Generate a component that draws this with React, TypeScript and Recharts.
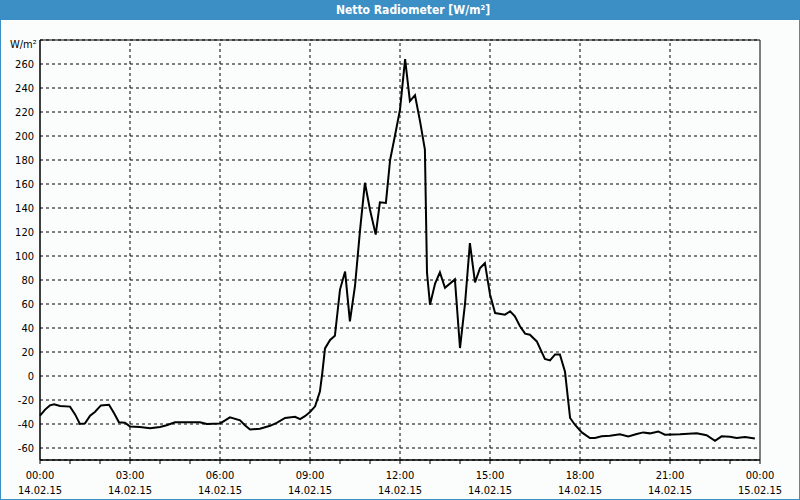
import React from 'react';
import { LineChart, Line, XAxis, YAxis, CartesianGrid, ReferenceLine, ReferenceArea } from 'recharts';

const hours: number[] = [
  0.0, 0.17, 0.33, 0.47, 0.67, 1.0, 1.17, 1.33, 1.5, 1.67, 1.83, 2.03, 2.3, 2.47, 2.63, 2.83,
  3.0, 3.33, 3.67, 4.0, 4.22, 4.5, 5.0, 5.33, 5.56, 6.0, 6.17, 6.33, 6.67, 6.83, 7.0, 7.33,
  7.67, 7.89, 8.17, 8.5, 8.67, 8.83, 9.0, 9.17, 9.33, 9.41, 9.5, 9.67, 9.83, 10.0, 10.17, 10.33,
  10.5, 10.67, 10.83, 11.0, 11.19, 11.33, 11.53, 11.67, 11.83, 12.0, 12.17, 12.33, 12.5, 12.67,
  12.83, 12.9, 13.0, 13.17, 13.33, 13.5, 13.83, 14.0, 14.17, 14.33, 14.5, 14.67, 14.83, 15.0,
  15.17, 15.5, 15.67, 15.83, 16.0, 16.17, 16.33, 16.56, 16.83, 17.0, 17.17, 17.33, 17.5, 17.67,
  17.83, 18.06, 18.33, 18.5, 18.72, 19.0, 19.33, 19.61, 19.89, 20.11, 20.33, 20.61, 20.83, 21.33,
  21.89, 22.22, 22.5, 22.72, 23.0, 23.22, 23.5, 23.83,
];

const netRadiation: number[] = [
  -33, -28, -24.5, -23.5, -25, -25.5, -32, -40, -39.5, -33, -30, -24.5, -24, -31, -38.5, -39,
  -42, -42.5, -43.5, -42.5, -41, -38.5, -38.5, -38.5, -40, -39.5, -37, -34.5, -37, -41, -44.5, -44,
  -41.5, -39, -35, -34, -36, -33.5, -30, -25.3, -13, 2.5, 23, 30, 33.5, 72, 87, 45.5,
  75, 122, 161, 138.6, 117.8, 144.7, 144.2, 180, 200, 222, 264, 229, 234, 212,
  188.6, 86, 59.4, 77, 86.4, 73.5, 80.5, 23.3, 61, 110.8, 78, 90, 94, 68,
  52.5, 51.1, 53.9, 49.7, 41.4, 35.3, 34.4, 28.8, 14.2, 13, 18, 18, 3.5, -35,
  -40.6, -47, -51.7, -51.7, -50.3, -49.8, -48.6, -50.3, -48.3, -47, -47.8, -46.2, -48.9, -48.6,
  -47.8, -49.4, -54, -50.3, -50.6, -51.7, -50.8, -52,
];

const yTicks: number[] = [-60, -40, -20, 0, 20, 40, 60, 80, 100, 120, 140, 160, 180, 200, 220, 240, 260];
const xTicks: number[] = [0, 1, 2, 3, 4, 5, 6, 7, 8, 9, 10, 11, 12, 13, 14, 15, 16, 17, 18, 19, 20, 21, 22, 23, 24];
const gridHours: number[] = [3, 6, 9, 12, 15, 18, 21];
const labelHours: number[] = [0, 3, 6, 9, 12, 15, 18, 21, 24];
const timeLabels: string[] = ['00:00', '03:00', '06:00', '09:00', '12:00', '15:00', '18:00', '21:00', '00:00'];
const dateLabels: string[] = ['14.02.15', '14.02.15', '14.02.15', '14.02.15', '14.02.15', '14.02.15', '14.02.15', '14.02.15', '15.02.15'];

const data = hours.map((h, i) => ({ h, v: netRadiation[i] }));

const FONT = "'DejaVu Sans Condensed', 'DejaVu Sans', sans-serif";
const BLUE = '#3c8fc4';

const XTick = (props: any) => {
  const { x, y, payload } = props;
  const idx = labelHours.indexOf(payload.value);
  if (idx < 0) return <g />;
  return (
    <g>
      <text x={x} y={y} textAnchor="middle" fontFamily={FONT} fontSize={11} fill="#000">
        <tspan x={x} dy={13}>{timeLabels[idx]}</tspan>
        <tspan x={x} dy={15}>{dateLabels[idx]}</tspan>
      </text>
    </g>
  );
};

export default function App() {
  return (
    <div style={{ position: 'absolute', left: 0, top: 0, width: 800, height: 500, background: '#fbfdfc', overflow: 'hidden' }}>
      <div style={{ position: 'absolute', left: 0, top: 0 }}>
        <LineChart width={800} height={500} data={data} margin={{ top: 40, right: 40, bottom: 0, left: 0 }}>
          <CartesianGrid vertical={false} stroke="#000" strokeDasharray="3 3" />
          {gridHours.map((g) => (
            <ReferenceLine key={g} x={g} stroke="#000" strokeDasharray="3 3" />
          ))}
          <ReferenceArea x1={0} x2={24} y1={-70} y2={280} fill="none" stroke="#000" strokeWidth={1} ifOverflow="visible" />
          <XAxis
            dataKey="h"
            type="number"
            domain={[0, 24]}
            ticks={xTicks}
            interval={0}
            height={40}
            axisLine={{ stroke: '#000' }}
            tickLine={{ stroke: '#000' }}
            tickSize={4}
            tickMargin={2}
            tick={<XTick />}
          />
          <YAxis
            type="number"
            domain={[-70, 280]}
            ticks={yTicks}
            interval={0}
            width={40}
            axisLine={{ stroke: '#000' }}
            tickLine={false}
            tickSize={0}
            tickMargin={6}
            tick={{ fill: '#000', fontSize: 11, fontFamily: FONT }}
          />
          <Line type="linear" dataKey="v" stroke="#000" strokeWidth={2} dot={false} isAnimationActive={false} />
        </LineChart>
      </div>
      <div style={{ position: 'absolute', left: 10, top: 38, fontFamily: FONT, fontSize: 11, color: '#000' }}>W/m²</div>
      <div style={{ position: 'absolute', left: 0, top: 0, width: 800, height: 20, background: BLUE }}>
        <span style={{ position: 'absolute', left: 413, top: 0, transform: 'translateX(-50%)', lineHeight: '20px', fontFamily: FONT, fontSize: 12, fontWeight: 'bold', color: '#fff', whiteSpace: 'nowrap' }}>
          Netto Radiometer [W/m²]
        </span>
      </div>
      <div style={{ position: 'absolute', left: 0, top: 0, width: 800, height: 500, boxSizing: 'border-box', border: `1px solid ${BLUE}`, pointerEvents: 'none' }} />
    </div>
  );
}
